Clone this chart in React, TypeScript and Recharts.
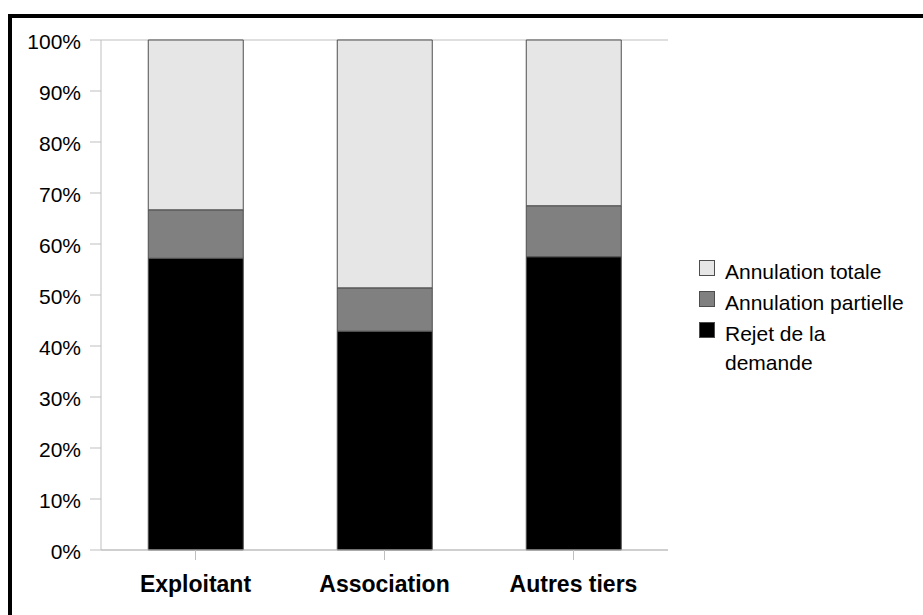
import React from 'react';
import { BarChart, Bar, XAxis, YAxis, CartesianGrid, Legend } from 'recharts';

const categories = ['Exploitant', 'Association', 'Autres tiers'];
const rejet = [57.2, 42.9, 57.5];
const partielle = [9.5, 8.5, 10.0];
const totale = [33.3, 48.6, 32.5];
const yTicks = [0, 10, 20, 30, 40, 50, 60, 70, 80, 90, 100];
const legendOrder = ['Annulation totale', 'Annulation partielle', 'Rejet de la demande'];

const data = categories.map((name, i) => ({
  name,
  rejet: rejet[i],
  partielle: partielle[i],
  totale: totale[i],
}));

const FONT = '"Liberation Sans", Arial, sans-serif';
const GRID = '#bfbfbf';
const EDGE = '#4d4d4d';

function LegendBox({ payload }: any) {
  const items = legendOrder
    .map((n) => (payload || []).find((p: any) => p.value === n))
    .filter(Boolean);
  return (
    <div style={{ fontFamily: FONT, fontSize: 21, color: '#000', lineHeight: '29px', textAlign: 'left' }}>
      {items.map((it: any) => (
        <div key={it.value} style={{ display: 'flex', alignItems: 'flex-start', marginBottom: 2 }}>
          <span
            style={{
              display: 'inline-block',
              width: 16,
              height: 16,
              marginTop: 3,
              marginRight: 10,
              background: it.color,
              border: `1px solid ${EDGE}`,
              boxSizing: 'border-box',
              flexShrink: 0,
            }}
          />
          <span style={{ width: 184 }}>{it.value}</span>
        </div>
      ))}
    </div>
  );
}

export default function App() {
  return (
    <div style={{ position: 'absolute', left: 0, top: 0, width: 923, height: 615, background: '#fff' }}>
      <div
        style={{
          position: 'absolute',
          left: 8,
          top: 14,
          width: 915,
          height: 601,
          borderTop: '4px solid #000',
          borderLeft: '4px solid #000',
          boxSizing: 'border-box',
        }}
      />
      <div style={{ position: 'absolute', left: 0, top: 0 }}>
        <BarChart
          width={923}
          height={615}
          data={data}
          margin={{ top: 40, right: 255, left: 0, bottom: 0 }}
          barCategoryGap="25%"
        >
          <CartesianGrid vertical={false} stroke={GRID} />
          <XAxis
            dataKey="name"
            height={65}
            stroke={GRID}
            tickSize={10}
            tickMargin={16}
            tick={{ fill: '#000', fontFamily: FONT, fontSize: 23, fontWeight: 700 }}
          />
          <YAxis
            yAxisId="left"
            width={101}
            domain={[0, 100]}
            ticks={yTicks}
            tickFormatter={(v) => `${v}%`}
            stroke={GRID}
            tickSize={11}
            tickMargin={9}
            tick={{ fill: '#000', fontFamily: FONT, fontSize: 21, dy: 2 }}
          />
          <YAxis yAxisId="right" orientation="right" width={0} domain={[0, 100]} stroke={GRID} tick={false} tickLine={false} />
          <Legend
            layout="horizontal"
            verticalAlign="middle"
            align="center"
            content={<LegendBox />}
            wrapperStyle={{ left: 699, top: 257, width: 220 }}
          />
          <Bar yAxisId="left" dataKey="rejet" name="Rejet de la demande" stackId="a" fill="#000000" stroke={EDGE} isAnimationActive={false} />
          <Bar yAxisId="left" dataKey="partielle" name="Annulation partielle" stackId="a" fill="#808080" stroke={EDGE} isAnimationActive={false} />
          <Bar yAxisId="left" dataKey="totale" name="Annulation totale" stackId="a" fill="#e6e6e6" stroke={EDGE} isAnimationActive={false} />
        </BarChart>
      </div>
    </div>
  );
}
